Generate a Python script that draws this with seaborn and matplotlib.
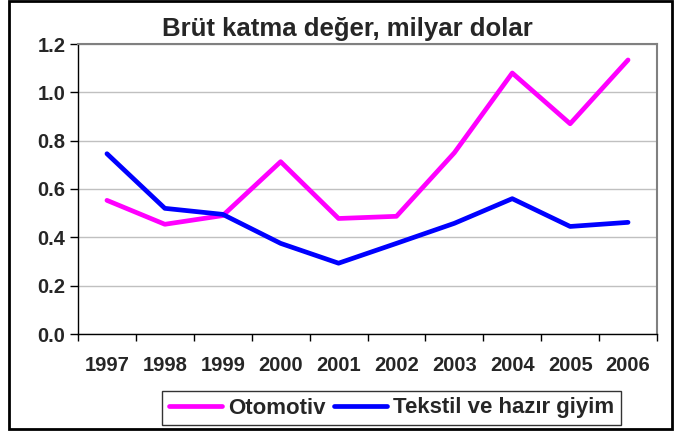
import matplotlib
matplotlib.use("Agg")
import matplotlib.pyplot as plt
import seaborn as sns
import pandas as pd
from matplotlib.patches import Rectangle
from matplotlib.ticker import FixedLocator
from matplotlib.lines import Line2D

years = ["1997", "1998", "1999", "2000", "2001", "2002", "2003", "2004", "2005", "2006"]
otomotiv = [0.553, 0.454, 0.490, 0.713, 0.478, 0.487, 0.750, 1.080, 0.870, 1.134]
tekstil = [0.746, 0.520, 0.495, 0.375, 0.293, 0.375, 0.458, 0.560, 0.445, 0.462]
series_names = ["Otomotiv", "Tekstil ve hazır giyim"]
colors = ["#FF00FF", "#0000FF"]
yticks = [0.0, 0.2, 0.4, 0.6, 0.8, 1.0, 1.2]

df = pd.DataFrame({
    "x": list(range(len(years))) * 2,
    "value": otomotiv + tekstil,
    "series": [series_names[0]] * len(years) + [series_names[1]] * len(years),
})

sns.set_theme(style="white")
plt.rcParams["font.family"] = ["Liberation Sans", "DejaVu Sans"]
plt.rcParams["font.weight"] = "bold"

fig = plt.figure(figsize=(6.77, 4.32), dpi=100)
ax = fig.add_axes([78 / 677, 1 - 334 / 432, (657 - 78) / 677, (334 - 44) / 432])

sns.lineplot(data=df, x="x", y="value", hue="series", palette=colors,
             linewidth=3.4, ax=ax, legend=False, sort=False)

ax.set_xlim(-0.5, len(years) - 0.5)
ax.set_ylim(0, 1.2)
ax.set_yticks(yticks)
ax.set_yticklabels([f"{v:.1f}" for v in yticks], fontsize=14.5, fontweight="bold")
ax.set_xticks(range(len(years)))
ax.set_xticklabels(years, fontsize=14.5, fontweight="bold")
ax.xaxis.set_minor_locator(FixedLocator([i - 0.5 for i in range(len(years) + 1)]))
ax.tick_params(axis="x", which="major", length=0, pad=16)
ax.tick_params(axis="x", which="minor", length=5, width=1, color="black", direction="out", bottom=True)
ax.tick_params(axis="y", which="major", length=6, width=1, color="black", direction="out", left=True, pad=3)
ax.set_xlabel("")
ax.set_ylabel("")
ax.grid(axis="y", color="#c0c0c0", linewidth=1)
ax.set_axisbelow(True)
for s in ["top", "right"]:
    ax.spines[s].set_color("#808080")
    ax.spines[s].set_linewidth(1.5)
for s in ["left", "bottom"]:
    ax.spines[s].set_color("black")
    ax.spines[s].set_linewidth(1)

fig.text(347 / 677, 1 - 36 / 432, "Brüt katma değer, milyar dolar",
         ha="center", va="baseline", fontsize=18.5, fontweight="bold")

# legend
handles = [Line2D([0], [0], color=c, lw=3.4) for c in colors]
leg = fig.legend(handles, series_names, loc="center",
                 bbox_to_anchor=(391.5 / 677, 1 - 408 / 432), ncol=2,
                 frameon=True, fancybox=False, handlelength=2.4,
                 columnspacing=0.4, handletextpad=0.25, borderpad=0.3,
                 borderaxespad=0,
                 prop={"size": 16, "weight": "bold"})
leg.get_frame().set_edgecolor("black")
leg.get_frame().set_linewidth(1)

# outer frame
fig.patches.append(Rectangle((9 / 677, 3 / 432), (672 - 9) / 677, (431 - 3) / 432,
                             transform=fig.transFigure, fill=False,
                             edgecolor="black", linewidth=2))

fig.savefig("out.png", dpi=100)
